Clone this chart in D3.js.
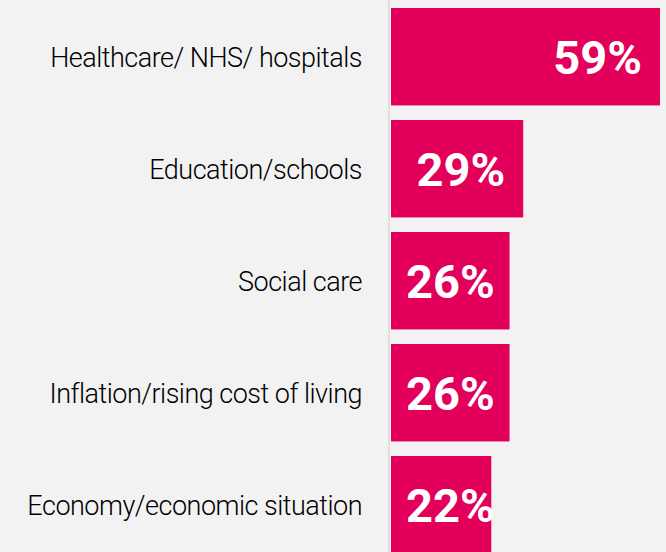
<!DOCTYPE html>
<html>
<head>
<meta charset="utf-8">
<script src="https://cdn.jsdelivr.net/npm/d3@7"></script>
<style>
  html, body { margin: 0; padding: 0; background: #f2f2f2; }
  svg { display: block; }
</style>
</head>
<body>
<div id="chart"></div>
<script>
let categories = [
  'Healthcare/ NHS/ hospitals',
  'Education/schools',
  'Social care',
  'Inflation/rising cost of living',
  'Economy/economic situation'
]
let values = [59, 29, 26, 26, 22]

let width = 666
let height = 552
let barLeft = 391

let svg = d3
  .select('#chart')
  .append('svg')
  .attr('width', width)
  .attr('height', height)

svg
  .append('rect')
  .attr('width', width)
  .attr('height', height)
  .attr('fill', '#f2f2f2')

let xScale = d3.scaleLinear().domain([0, 59]).range([barLeft, 660])

let yScale = d3
  .scaleBand()
  .domain(categories)
  .range([8, 8 + 112 * 5])
  .paddingInner(0.13)
  .paddingOuter(0.065)
  .align(0)

// axis line
svg
  .append('line')
  .attr('x1', 389)
  .attr('x2', 389)
  .attr('y1', 0)
  .attr('y2', height)
  .attr('stroke', '#d9d9d9')
  .attr('stroke-width', 1.5)

let rows = svg
  .selectAll('.row')
  .data(categories)
  .enter()
  .append('g')
  .attr('class', 'row')

rows
  .append('rect')
  .attr('x', barLeft)
  .attr('y', d => yScale(d))
  .attr('width', (d, i) => xScale(values[i]) - barLeft)
  .attr('height', yScale.bandwidth())
  .attr('fill', '#e3005a')

rows
  .append('text')
  .attr('x', 362)
  .attr('y', d => yScale(d) + yScale.bandwidth() / 2 + 10)
  .attr('text-anchor', 'end')
  .attr('font-family', 'Roboto')
  .attr('font-weight', 300)
  .attr('font-size', 27)
  .attr('letter-spacing', -0.5)
  .attr('fill', '#000000')
  .text(d => d)

rows
  .append('text')
  .attr('class', 'value')
  .attr('y', d => yScale(d) + yScale.bandwidth() / 2 + 17)
  .attr('font-family', 'Roboto, sans-serif')
  .attr('font-weight', 'bold')
  .attr('font-size', 47)
  .attr('fill', '#ffffff')
  .text((d, i) => values[i] + '%')
  .attr('x', function (d, i) {
    let w = this.getComputedTextLength()
    return Math.max(xScale(values[i]) - 18 - w, barLeft + 15)
  })
</script>
</body>
</html>
